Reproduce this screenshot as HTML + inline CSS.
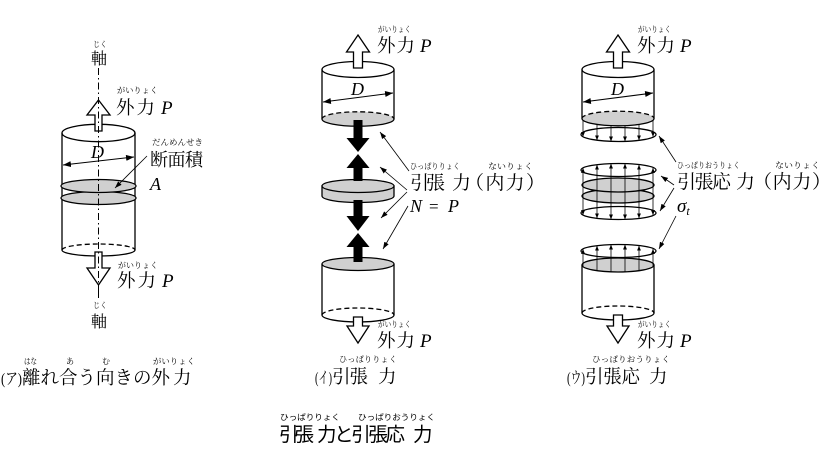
<!DOCTYPE html>
<html><head><meta charset="utf-8">
<style>
html,body{margin:0;padding:0;background:#fff;}
svg{display:block;}
.m{font-family:"Liberation Serif","Noto Serif CJK SC",serif;}
.r{font-family:"Liberation Serif","Noto Serif CJK SC",serif;font-size:8px;}
.i{font-family:"Liberation Serif",serif;font-style:italic;}
.g{font-family:"Liberation Sans","Noto Sans CJK JP",sans-serif;}
.rg{font-family:"Liberation Sans","Noto Sans CJK JP",sans-serif;font-size:8px;}
</style></head><body>
<svg width="836" height="452" viewBox="0 0 836 452" xmlns="http://www.w3.org/2000/svg">
<defs>
<marker id="ad" markerWidth="8" markerHeight="6" refX="8" refY="3" orient="auto-start-reverse" markerUnits="userSpaceOnUse"><path d="M0,0 L8,3 L0,6 z" fill="#000"/></marker>
<marker id="al" markerWidth="7" markerHeight="5" refX="7" refY="2.5" orient="auto" markerUnits="userSpaceOnUse"><path d="M0,0 L7,2.5 L0,5 z" fill="#000"/></marker>
<marker id="as" markerWidth="5" markerHeight="4" refX="5" refY="2" orient="auto-start-reverse" markerUnits="userSpaceOnUse"><path d="M0,0 L5,2 L0,4 z" fill="#000"/></marker>
</defs>

<g fill="none" stroke="#000" stroke-width="1.3">
<!-- LEFT cylinder -->
<ellipse cx="98.5" cy="133" rx="36.5" ry="8.7"/>
<line x1="62" y1="133" x2="62" y2="250"/>
<line x1="135" y1="133" x2="135" y2="250"/>
<path d="M62,250 A36.5,6 0 0 1 135,250" stroke-dasharray="5,3"/>
<path d="M62,250 A36.5,6 0 0 0 135,250"/>
<ellipse cx="98.5" cy="198" rx="37.5" ry="6.5" fill="#d0d0d0"/>
<ellipse cx="98.5" cy="186" rx="37.5" ry="6.5" fill="#d0d0d0"/>
</g>
<!-- left hollow arrows -->
<g fill="#fff" stroke="#000" stroke-width="1.3">
<polygon points="98.5,100 110,115 102,115 102,131 95,131 95,115 87,115"/>
<polygon points="98.5,285 110,268 102,268 102,252 95,252 95,268 87,268"/>
</g>
<!-- axis -->
<line x1="98.5" y1="68" x2="98.5" y2="283" stroke="#000" stroke-width="1" stroke-dasharray="7,3,1.5,3"/>
<line x1="98.5" y1="285" x2="98.5" y2="298" stroke="#000" stroke-width="1"/>
<!-- D arrow left -->
<line x1="63" y1="165" x2="134" y2="157" stroke="#000" stroke-width="1" marker-start="url(#ad)" marker-end="url(#ad)"/>
<!-- leader 断面積 -->
<line x1="147" y1="156" x2="115" y2="188" stroke="#000" stroke-width="0.8" marker-end="url(#al)"/>

<!-- MIDDLE -->
<g fill="none" stroke="#000" stroke-width="1.3">
<ellipse cx="358" cy="69.5" rx="36" ry="8"/>
<line x1="322" y1="69.5" x2="322" y2="119"/>
<line x1="394" y1="69.5" x2="394" y2="119"/>
<ellipse cx="358" cy="119" rx="36" ry="7.2" fill="#d0d0d0" stroke="none"/>
<path d="M322,119 A36,7.2 0 0 1 394,119" stroke-dasharray="5,3"/>
<path d="M322,119 A36,7.2 0 0 0 394,119"/>
<!-- middle disk -->
<path d="M322,186 L322,196 A36,6.5 0 0 0 394,196 L394,186 Z" fill="#d0d0d0"/>
<ellipse cx="358" cy="186" rx="36" ry="6.5" fill="#d0d0d0"/>
<!-- bottom cylinder -->
<line x1="322" y1="264" x2="322" y2="315"/>
<line x1="394" y1="264" x2="394" y2="315"/>
<ellipse cx="358" cy="264" rx="36" ry="6.5" fill="#d0d0d0"/>
<path d="M322,315 A36,7 0 0 1 394,315" stroke-dasharray="5,3"/>
<path d="M322,315 A36,7 0 0 0 394,315"/>
</g>
<g fill="#fff" stroke="#000" stroke-width="1.3">
<polygon points="358,35 369.5,52 362.5,52 362.5,68 353.5,68 353.5,52 346.5,52"/>
<polygon points="358,343 369,326 362.5,326 362.5,317 353.5,317 353.5,326 347,326"/>
</g>
<g fill="#000">
<polygon points="358,152 369.5,138 362.5,138 362.5,120 353.5,120 353.5,138 346.5,138"/>
<polygon points="358,154 369.5,168 362.5,168 362.5,181 353.5,181 353.5,168 346.5,168"/>
<polygon points="358,231 369.5,216 362.5,216 362.5,200 353.5,200 353.5,216 346.5,216"/>
<polygon points="358,233 369.5,247 362.5,247 362.5,262 353.5,262 353.5,247 346.5,247"/>
</g>
<line x1="323" y1="102" x2="393" y2="93" stroke="#000" stroke-width="1" marker-start="url(#ad)" marker-end="url(#ad)"/>
<g stroke="#000" stroke-width="0.8">
<line x1="409" y1="171" x2="380" y2="132" marker-end="url(#al)"/>
<line x1="407" y1="190" x2="380" y2="167" marker-end="url(#al)"/>
<line x1="407" y1="192" x2="381" y2="218" marker-end="url(#al)"/>
<line x1="408" y1="206" x2="383" y2="249" marker-end="url(#al)"/>
</g>

<!-- RIGHT -->
<g fill="none" stroke="#000" stroke-width="1.3">
<ellipse cx="618" cy="69.5" rx="36" ry="8"/>
<line x1="582" y1="69.5" x2="582" y2="118.5"/>
<line x1="654" y1="69.5" x2="654" y2="118.5"/>
<ellipse cx="618" cy="118.5" rx="36" ry="7.3" fill="#d0d0d0" stroke="none"/>
<path d="M582,118.5 A36,7.3 0 0 1 654,118.5" stroke-dasharray="5,3"/>
<path d="M582,118.5 A36,7.3 0 0 0 654,118.5"/>
<ellipse cx="618.5" cy="134.5" rx="37.5" ry="7"/>
<!-- middle stack -->
<ellipse cx="618.5" cy="170" rx="37.5" ry="6.5"/>
<ellipse cx="618" cy="196" rx="36" ry="7" fill="#d0d0d0"/>
<ellipse cx="618" cy="185" rx="36" ry="7" fill="#d0d0d0"/>
<ellipse cx="618.5" cy="213" rx="37.5" ry="6.5"/>
<!-- bottom cylinder -->
<ellipse cx="618.5" cy="251" rx="37.5" ry="6.5"/>
<line x1="582" y1="265" x2="582" y2="313"/>
<line x1="654" y1="265" x2="654" y2="313"/>
<ellipse cx="618" cy="265" rx="36" ry="7" fill="#d0d0d0"/>
<path d="M582,313 A36,7 0 0 1 654,313" stroke-dasharray="5,3"/>
<path d="M582,313 A36,7 0 0 0 654,313"/>
</g>
<!-- stress arrows -->
<g stroke="#000" stroke-width="0.8">
<line x1="583" y1="120.3" x2="583" y2="136.8" marker-end="url(#as)"/>
<line x1="597" y1="124.6" x2="597" y2="140.3" marker-end="url(#as)"/>
<line x1="611" y1="125.9" x2="611" y2="141.4" marker-end="url(#as)"/>
<line x1="625" y1="125.9" x2="625" y2="141.4" marker-end="url(#as)"/>
<line x1="639" y1="124.6" x2="639" y2="140.3" marker-end="url(#as)"/>
<line x1="653" y1="120.3" x2="653" y2="136.8" marker-end="url(#as)"/>

<line x1="583" y1="167.9" x2="583" y2="215.1" marker-start="url(#as)" marker-end="url(#as)"/>
<line x1="597" y1="164.7" x2="597" y2="218.3" marker-start="url(#as)" marker-end="url(#as)"/>
<line x1="611" y1="163.6" x2="611" y2="219.4" marker-start="url(#as)" marker-end="url(#as)"/>
<line x1="625" y1="163.6" x2="625" y2="219.4" marker-start="url(#as)" marker-end="url(#as)"/>
<line x1="639" y1="164.7" x2="639" y2="218.3" marker-start="url(#as)" marker-end="url(#as)"/>
<line x1="653" y1="167.9" x2="653" y2="215.1" marker-start="url(#as)" marker-end="url(#as)"/>

<line x1="583" y1="266.6" x2="583" y2="248.9" marker-end="url(#as)"/>
<line x1="597" y1="270.7" x2="597" y2="245.7" marker-end="url(#as)"/>
<line x1="611" y1="271.9" x2="611" y2="244.6" marker-end="url(#as)"/>
<line x1="625" y1="271.9" x2="625" y2="244.6" marker-end="url(#as)"/>
<line x1="639" y1="270.7" x2="639" y2="245.7" marker-end="url(#as)"/>
<line x1="653" y1="266.6" x2="653" y2="248.9" marker-end="url(#as)"/>
</g>
<g fill="#fff" stroke="#000" stroke-width="1.3">
<polygon points="618,35 629.5,52 622.5,52 622.5,68 613.5,68 613.5,52 606.5,52"/>
<polygon points="618,343 629,326 622.5,326 622.5,315 613.5,315 613.5,326 607,326"/>
</g>
<line x1="583" y1="102" x2="653" y2="93" stroke="#000" stroke-width="1" marker-start="url(#ad)" marker-end="url(#ad)"/>
<g stroke="#000" stroke-width="0.8">
<line x1="676" y1="162" x2="659" y2="136" marker-end="url(#al)"/>
<line x1="674" y1="185" x2="661" y2="176" marker-end="url(#al)"/>
<line x1="674" y1="188" x2="660" y2="211" marker-end="url(#al)"/>
<line x1="676" y1="216" x2="659" y2="249" marker-end="url(#al)"/>
</g>

<!-- TEXT LEFT -->
<g fill="#000">
<text class="r" x="93" y="47" textLength="14" lengthAdjust="spacingAndGlyphs">じく</text>
<text class="m" x="91" y="64" font-size="16">軸</text>
<text class="r" x="117" y="93" textLength="41" lengthAdjust="spacingAndGlyphs">がいりょく</text>
<text class="m" x="116" y="114" font-size="18.5" textLength="39" lengthAdjust="spacing">外力</text>
<text class="i" x="161" y="114" font-size="19">P</text>
<text class="i" x="91" y="158" font-size="18">D</text>
<text class="r" x="152" y="145" textLength="51" lengthAdjust="spacingAndGlyphs">だんめんせき</text>
<text class="m" x="150" y="166" font-size="18" textLength="53" lengthAdjust="spacing">断面積</text>
<text class="i" x="150" y="190" font-size="18">A</text>
<text class="r" x="118" y="268" textLength="40" lengthAdjust="spacingAndGlyphs">がいりょく</text>
<text class="m" x="117" y="287" font-size="18.5" textLength="39" lengthAdjust="spacing">外力</text>
<text class="i" x="162" y="287" font-size="19">P</text>
<text class="r" x="93" y="308" textLength="14" lengthAdjust="spacingAndGlyphs">じく</text>
<text class="m" x="91" y="327" font-size="16">軸</text>
<!-- caption ア -->
<text class="r" x="24" y="364" textLength="13" lengthAdjust="spacingAndGlyphs">はな</text>
<text class="r" x="66" y="364">あ</text>
<text class="r" x="102" y="364">む</text>
<text class="r" x="153" y="364" textLength="42" lengthAdjust="spacingAndGlyphs">がいりょく</text>
<text class="m" x="1" y="384" font-size="16" textLength="21" lengthAdjust="spacingAndGlyphs">(ア)</text>
<text class="m" x="22" y="384" font-size="18.5" textLength="148" lengthAdjust="spacing">離れ合う向きの外</text>
<text class="m" x="173" y="384" font-size="18.5">力</text>

<!-- TEXT MIDDLE -->
<text class="r" x="378" y="32" textLength="33" lengthAdjust="spacingAndGlyphs">がいりょく</text>
<text class="m" x="377" y="52" font-size="18.5" textLength="38" lengthAdjust="spacing">外力</text>
<text class="i" x="420" y="52" font-size="19">P</text>
<text class="i" x="351" y="95" font-size="18">D</text>
<text class="r" x="410" y="169" textLength="50" lengthAdjust="spacingAndGlyphs">ひっぱりりょく</text>
<text class="r" x="488" y="169" textLength="45" lengthAdjust="spacingAndGlyphs">ないりょく</text>
<text class="m" x="410" y="189" font-size="19" textLength="35" lengthAdjust="spacing">引張</text>
<text class="m" x="452" y="189" font-size="19">力</text>
<text class="m" x="465" y="189" font-size="19" textLength="80" lengthAdjust="spacing">（内力）</text>
<text class="i" x="410" y="212" font-size="18">N</text>
<text class="m" x="429" y="212" font-size="17">=</text>
<text class="i" x="448" y="212" font-size="18">P</text>
<text class="r" x="378" y="327" textLength="33" lengthAdjust="spacingAndGlyphs">がいりょく</text>
<text class="m" x="377" y="347" font-size="18.5" textLength="38" lengthAdjust="spacing">外力</text>
<text class="i" x="420" y="347" font-size="19">P</text>
<text class="r" x="339" y="362" textLength="58" lengthAdjust="spacingAndGlyphs">ひっぱりりょく</text>
<text class="m" x="315" y="383" font-size="16" textLength="17" lengthAdjust="spacingAndGlyphs">(イ)</text>
<text class="m" x="332" y="383" font-size="18.5" textLength="36" lengthAdjust="spacing">引張</text>
<text class="m" x="378" y="383" font-size="18.5">力</text>

<!-- TEXT RIGHT -->
<text class="r" x="638" y="32" textLength="33" lengthAdjust="spacingAndGlyphs">がいりょく</text>
<text class="m" x="637" y="52" font-size="18.5" textLength="38" lengthAdjust="spacing">外力</text>
<text class="i" x="680" y="52" font-size="19">P</text>
<text class="i" x="611" y="95" font-size="18">D</text>
<text class="r" x="677" y="168" textLength="63" lengthAdjust="spacingAndGlyphs">ひっぱりおうりょく</text>
<text class="r" x="775" y="168" textLength="45" lengthAdjust="spacingAndGlyphs">ないりょく</text>
<text class="m" x="677" y="188" font-size="19" textLength="54" lengthAdjust="spacing">引張応</text>
<text class="m" x="736" y="188" font-size="19">力</text>
<text class="m" x="753" y="188" font-size="19" textLength="78" lengthAdjust="spacing">（内力）</text>
<text class="i" x="677" y="212" font-size="19">σ<tspan font-size="12" dy="3">t</tspan></text>
<text class="r" x="638" y="327" textLength="33" lengthAdjust="spacingAndGlyphs">がいりょく</text>
<text class="m" x="637" y="347" font-size="18.5" textLength="38" lengthAdjust="spacing">外力</text>
<text class="i" x="680" y="347" font-size="19">P</text>
<text class="r" x="592" y="362" textLength="78" lengthAdjust="spacingAndGlyphs">ひっぱりおうりょく</text>
<text class="m" x="567" y="383" font-size="16" textLength="18" lengthAdjust="spacingAndGlyphs">(ウ)</text>
<text class="m" x="585" y="383" font-size="18.5" textLength="55" lengthAdjust="spacing">引張応</text>
<text class="m" x="649" y="383" font-size="18.5">力</text>

<!-- BOTTOM CAPTION -->
<text class="rg" x="280" y="420" textLength="60" lengthAdjust="spacingAndGlyphs">ひっぱりりょく</text>
<text class="rg" x="358" y="420" textLength="77" lengthAdjust="spacingAndGlyphs">ひっぱりおうりょく</text>
<text class="g" x="279" y="441" font-size="19.5" textLength="35" lengthAdjust="spacing">引張</text>
<text class="g" x="317" y="441" font-size="19.5" textLength="88" lengthAdjust="spacing">力と引張応</text>
<text class="g" x="413" y="441" font-size="19.5">力</text>
</g>
</svg>
</body></html>
